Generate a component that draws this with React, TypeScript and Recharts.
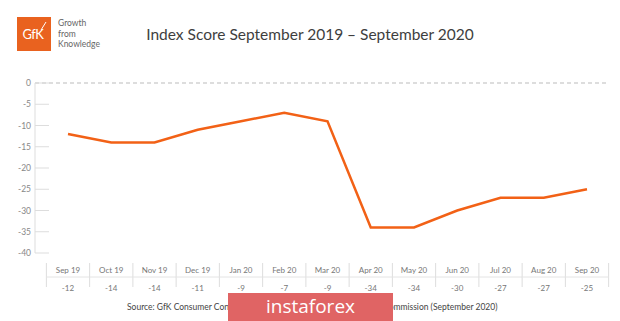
import React from "react";
import { LineChart, Line, XAxis, YAxis, ReferenceLine } from "recharts";

const months = ["Sep 19", "Oct 19", "Nov 19", "Dec 19", "Jan 20", "Feb 20", "Mar 20", "Apr 20", "May 20", "Jun 20", "Jul 20", "Aug 20", "Sep 20"];
const scores = [-12, -14, -14, -11, -9, -7, -9, -34, -34, -30, -27, -27, -25];
const yTicks = [0, -5, -10, -15, -20, -25, -30, -35, -40];

const data = months.map((m, i) => ({ month: m, score: scores[i] }));

const FONT = "Lato, 'Open Sans', sans-serif";
const BAND = (587 - 68) / (months.length - 1);

function YTick(props: any) {
  const { x, y, payload } = props;
  return (
    <g>
      <line x1={x + 4} x2={x + 18} y1={y} y2={y} stroke="#ddd" strokeWidth={1} />
      <text x={x} y={y} dy={3} textAnchor="end" fontSize={8.5} fill="#888" fontFamily={FONT}>
        {payload.value}
      </text>
    </g>
  );
}

function XTick(props: any) {
  const { x, y, payload, index } = props;
  const half = BAND / 2;
  return (
    <g>
      <line x1={x - half} x2={x - half} y1={y + 10} y2={y + 34} stroke="#ddd" />
      {index === months.length - 1 && (
        <line x1={x + half} x2={x + half} y1={y + 10} y2={y + 34} stroke="#ddd" />
      )}
      <line x1={x - half} x2={x + half} y1={y + 24} y2={y + 24} stroke="#e4e4e4" />
      <text x={x} y={y + 20} textAnchor="middle" fontSize={8} fill="#777" fontFamily={FONT}>
        {payload.value}
      </text>
      <text x={x} y={y + 38} textAnchor="middle" fontSize={8} fill="#777" fontFamily={FONT}>
        {scores[index]}
      </text>
    </g>
  );
}

export default function App() {
  return (
    <div style={{ position: "absolute", left: 0, top: 0, width: 620, height: 321, background: "#fff", fontFamily: FONT, overflow: "hidden" }}>
      {/* logo */}
      <svg style={{ position: "absolute", left: 17, top: 17 }} width={34} height={34}>
        <rect width={34} height={34} fill="#e9621f" />
        <text x={16} y={22} textAnchor="middle" fontSize={13} fill="#fff" fontFamily={FONT} letterSpacing={-0.5}>GfK</text>
        <line x1={24} y1={13} x2={29} y2={5} stroke="#fff" strokeWidth={1} />
      </svg>
      <div style={{ position: "absolute", left: 58, top: 18, fontSize: 8.5, lineHeight: "10.5px", color: "#666" }}>
        Growth<br />from<br />Knowledge
      </div>
      <div style={{ position: "absolute", left: 0, width: 620, top: 25, textAlign: "center", fontSize: 15.5, color: "#3e3e3e" }}>
        Index Score September 2019 – September 2020
      </div>

      <LineChart width={620} height={321} data={data} margin={{ top: 83, right: 12, bottom: 0, left: 0 }}>
        <ReferenceLine y={0} stroke="#bbb" strokeDasharray="4 3" />
        <XAxis
          dataKey="month"
          height={68}
          padding={{ left: 33, right: 21 }}
          axisLine={false}
          tickLine={false}
          tickSize={0}
          tickMargin={0}
          interval={0}
          tick={<XTick />}
        />
        <YAxis
          width={35}
          domain={[-40, 0]}
          ticks={yTicks}
          interval={0}
          axisLine={{ stroke: "#ddd" }}
          tickLine={false}
          tickSize={0}
          tickMargin={4}
          tick={<YTick />}
        />
        <Line type="linear" dataKey="score" stroke="#f26116" strokeWidth={2.5} dot={false} isAnimationActive={false} />
      </LineChart>

      <div style={{ position: "absolute", left: 127, top: 302, fontSize: 8.5, color: "#444", whiteSpace: "nowrap" }}>
        Source: GfK Consumer Confidence Barometer data for the European Commission (September 2020)
      </div>
      <div style={{ position: "absolute", left: 228, top: 293, width: 165, height: 28, background: "#e06464", color: "#fff", fontSize: 19, lineHeight: "27px", textAlign: "center", fontFamily: "'Open Sans', sans-serif" }}>
        instaforex
      </div>
    </div>
  );
}
